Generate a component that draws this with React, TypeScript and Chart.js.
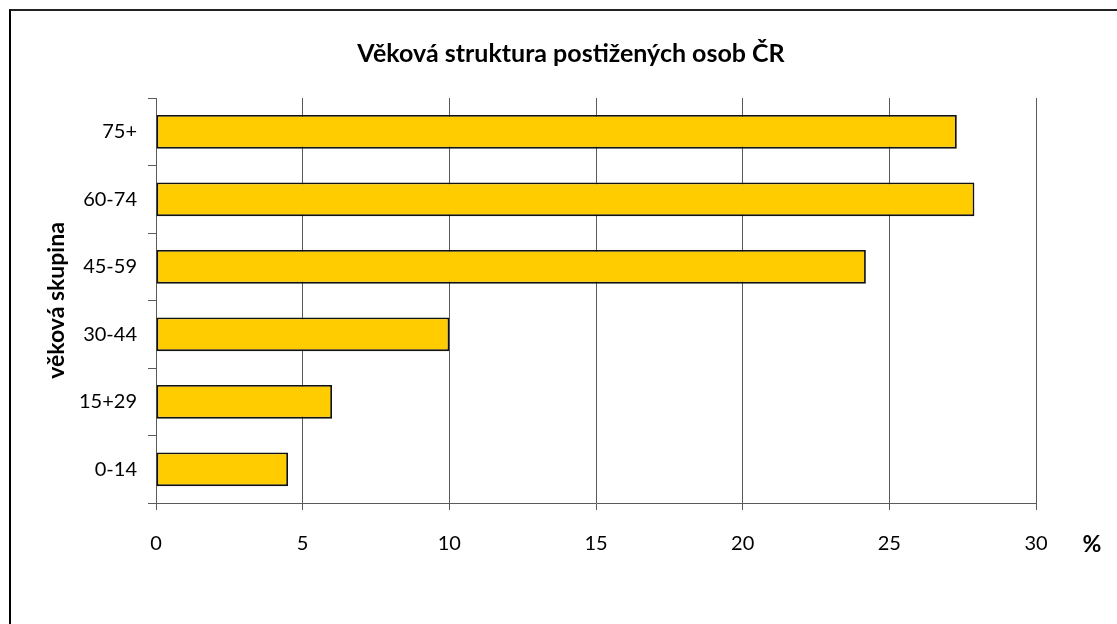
import React, { useEffect, useRef } from "react";
import { Chart, registerables } from "chart.js";

Chart.register(...registerables);

const categories = ["75+", "60-74", "45-59", "30-44", "15+29", "0-14"];
const values = [27.3, 27.9, 24.2, 10.0, 6.0, 4.5];
const xMin = 0;
const xMax = 30;
const xStep = 5;
const chartTitle = "Věková struktura postižených osob ČR";
const yAxisTitle = "věková skupina";
const xUnit = "%";

const FONT = "Lato, 'Open Sans', sans-serif";
const GRID = "#5a5a5a";

const textPlugin = {
  id: "extraTexts",
  afterDraw(chart: any) {
    const { ctx, chartArea } = chart;
    ctx.save();
    ctx.fillStyle = "#000";
    ctx.textAlign = "center";
    ctx.textBaseline = "middle";
    ctx.font = `bold 25px ${FONT}`;
    ctx.fillText(chartTitle, 561, 44);
    ctx.font = `bold 23px ${FONT}`;
    ctx.fillText(xUnit, chartArea.right + 56, 535);
    ctx.restore();
  },
};

export default function App() {
  const ref = useRef<HTMLCanvasElement>(null);

  useEffect(() => {
    if (!ref.current) return;
    const chart = new Chart(ref.current, {
      type: "bar",
      data: {
        labels: categories,
        datasets: [
          {
            data: values,
            backgroundColor: "#FFCC00",
            borderColor: "#111",
            borderWidth: 1.8,
            borderSkipped: false,
            categoryPercentage: 1,
            barPercentage: 0.5,
          },
        ],
      },
      options: {
        indexAxis: "y",
        responsive: false,
        animation: false,
        devicePixelRatio: 1,
        layout: { padding: { left: 33, right: 96, top: 88, bottom: 0 } },
        plugins: {
          legend: { display: false },
          title: { display: false },
          tooltip: { enabled: false },
        },
        scales: {
          x: {
            type: "linear",
            min: xMin,
            max: xMax,
            ticks: {
              stepSize: xStep,
              color: "#000",
              font: { family: FONT, size: 20 },
              padding: 22,
            },
            grid: {
              color: GRID,
              lineWidth: 1,
              drawTicks: true,
              tickLength: 7,
            },
            border: { display: true, color: GRID, width: 1 },
            afterFit: (s: any) => {
              s.height = 121;
            },
          },
          y: {
            type: "category",
            offset: true,
            ticks: {
              color: "#000",
              font: { family: FONT, size: 20 },
              padding: 11,
            },
            grid: {
              offset: true,
              drawOnChartArea: false,
              drawTicks: true,
              tickLength: 8,
              color: GRID,
            },
            border: { display: true, color: GRID, width: 1 },
            title: {
              display: true,
              text: yAxisTitle,
              color: "#000",
              font: { family: FONT, size: 23, weight: "bold" },
              padding: { top: 0, bottom: 0 },
            },
            afterFit: (s: any) => {
              s.width = 113;
            },
          },
        },
      },
      plugins: [textPlugin],
    });
    return () => chart.destroy();
  }, []);

  return (
    <div
      style={{
        position: "fixed",
        left: 0,
        top: 0,
        width: 1117,
        height: 624,
        overflow: "hidden",
        background: "#fff",
      }}
    >
      <div
        style={{
          position: "absolute",
          left: 9,
          top: 9,
          width: 1200,
          height: 700,
          borderLeft: "2px solid #000",
          borderTop: "2px solid #222",
        }}
      />
      <canvas
        ref={ref}
        width={1122}
        height={614}
        style={{ position: "absolute", left: 10, top: 10, width: 1122, height: 614 }}
      />
    </div>
  );
}
